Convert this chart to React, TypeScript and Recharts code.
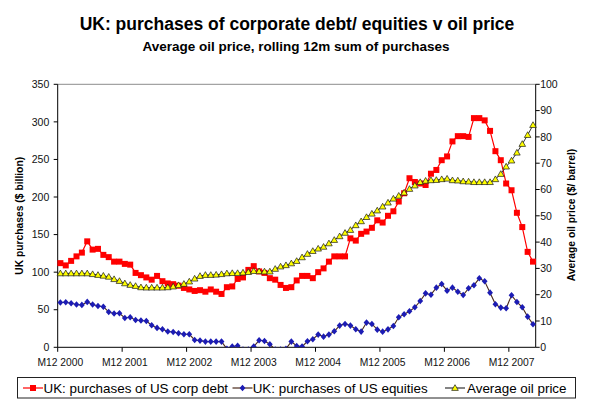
import React from 'react';
import { ComposedChart, Line, XAxis, YAxis, ReferenceLine } from 'recharts';

const months: string[] = [
  'M12 2000',
  'M1 2001', 'M2 2001', 'M3 2001', 'M4 2001', 'M5 2001', 'M6 2001', 'M7 2001', 'M8 2001', 'M9 2001', 'M10 2001', 'M11 2001', 'M12 2001',
  'M1 2002', 'M2 2002', 'M3 2002', 'M4 2002', 'M5 2002', 'M6 2002', 'M7 2002', 'M8 2002', 'M9 2002', 'M10 2002', 'M11 2002', 'M12 2002',
  'M1 2003', 'M2 2003', 'M3 2003', 'M4 2003', 'M5 2003', 'M6 2003', 'M7 2003', 'M8 2003', 'M9 2003', 'M10 2003', 'M11 2003', 'M12 2003',
  'M1 2004', 'M2 2004', 'M3 2004', 'M4 2004', 'M5 2004', 'M6 2004', 'M7 2004', 'M8 2004', 'M9 2004', 'M10 2004', 'M11 2004', 'M12 2004',
  'M1 2005', 'M2 2005', 'M3 2005', 'M4 2005', 'M5 2005', 'M6 2005', 'M7 2005', 'M8 2005', 'M9 2005', 'M10 2005', 'M11 2005', 'M12 2005',
  'M1 2006', 'M2 2006', 'M3 2006', 'M4 2006', 'M5 2006', 'M6 2006', 'M7 2006', 'M8 2006', 'M9 2006', 'M10 2006', 'M11 2006', 'M12 2006',
  'M1 2007', 'M2 2007', 'M3 2007', 'M4 2007', 'M5 2007', 'M6 2007', 'M7 2007', 'M8 2007', 'M9 2007', 'M10 2007', 'M11 2007', 'M12 2007',
  'M1 2008', 'M2 2008', 'M3 2008', 'M4 2008',
];

// UK: purchases of US corp debt ($ billion, rolling 12m sum)
const corpDebt: number[] = [
  112, 109, 115, 121, 126, 141, 130, 131, 123, 120, 114, 114, 111,
  110, 99, 96, 93, 90, 95, 88, 85, 84, 82, 79, 77,
  75, 76, 74, 77, 74, 71, 80, 81, 91, 93, 103, 108,
  101, 99, 92, 90, 83, 79, 80, 89, 95, 95, 92, 100,
  105, 114, 121, 121, 121, 145, 142, 151, 154, 159, 169, 166,
  175, 181, 194, 205, 225, 220, 218, 216, 231, 236, 249, 254,
  274, 281, 281, 280, 305, 305, 302, 288, 261, 249, 218, 209,
  179, 160, 127, 114,
];

// UK: purchases of US equities ($ billion, rolling 12m sum)
const equities: number[] = [
  59.6, 60, 58.7, 57, 56.4, 60.4, 57, 55, 54, 47, 45, 45.3, 39,
  40, 36.4, 35.6, 35, 29.3, 25.8, 24, 21, 20.4, 18.7, 17.3, 17.3,
  9.8, 8.9, 7.6, 7.6, 7.6, 7.6, -2, 1, 2, -3, -3, 1,
  9.3, 8.4, 4, -3, -3, -2, 7.6, 1.8, 0.9, 8, 10.7, 16.9,
  14.2, 16.9, 21.3, 28.9, 31.1, 28.9, 24, 20.9, 32.9, 31.1, 23.5, 20.8,
  23.9, 28.3, 39.9, 43.9, 47.9, 53.2, 61.6, 71.8, 70, 79.4, 84.2, 75.4,
  79.4, 74, 69.6, 78.5, 82.5, 91.8, 87.8, 72.7, 57.2, 52.8, 51.9, 69.2,
  60.3, 53.2, 40.8, 30.6,
];

// Average oil price ($/barrel)
const oilPrice: number[] = [
  28.1, 28.1, 28.1, 28.1, 28.1, 28.1, 27.8, 27.5, 27.2, 26.8, 25.9, 25.2, 24.3,
  23.7, 23.3, 22.8, 22.7, 22.7, 22.7, 22.7, 22.8, 23.1, 23.6, 24.1, 25.0,
  26.1, 27.1, 27.5, 27.5, 27.6, 27.8, 28.1, 28.2, 28.2, 28.4, 28.6, 29.0,
  28.9, 28.8, 28.8, 29.8, 30.7, 31.2, 31.9, 32.8, 34.2, 35.5, 36.6, 37.5,
  38.2, 39.5, 40.8, 42.2, 43.5, 44.6, 46.4, 47.9, 49.5, 50.8, 52.0, 53.5,
  55.0, 56.5, 57.6, 58.8, 60.2, 61.5, 62.8, 63.3, 63.5, 63.6, 63.9, 64.1,
  63.5, 63.4, 63.1, 63.0, 62.8, 62.8, 62.8, 62.8, 63.9, 65.9, 68.7, 71.0,
  74.0, 77.3, 80.7, 84.5,
];

const leftTicks: number[] = [0, 50, 100, 150, 200, 250, 300, 350];
const rightTicks: number[] = [0, 10, 20, 30, 40, 50, 60, 70, 80, 90, 100];

const TITLE = 'UK: purchases of corporate debt/ equities v oil price';
const SUBTITLE = 'Average oil price, rolling 12m sum of purchases';
const LEFT_LABEL = 'UK purchases ($ billion)';
const RIGHT_LABEL = 'Average oil price ($/ barrel)';
const SERIES_NAMES = ['UK: purchases of US corp debt', 'UK: purchases of US equities', 'Average oil price'];

const data = months.map((m, i) => ({
  month: m,
  debt: corpDebt[i],
  equities: equities[i],
  oil: oilPrice[i],
}));

const W = 593;
const H = 405;
const LEFT_W = 57.7;
const RIGHT_W = 57.3;
const PLOT_W = W - LEFT_W - RIGHT_W;
const HALF_BAND = PLOT_W / months.length / 2;
const FONT = '"Liberation Sans", Arial, sans-serif';

const RED = '#ff0000';
const BLUE = '#1c1cb4';
const BLUE_LINE = '#4a2a1c';
const YELLOW = '#ffff00';

const Square = (props: any) => {
  const { cx, cy, index } = props;
  if (cx == null || cy == null) return <g key={`s${index}`} />;
  return <rect key={`s${index}`} x={cx - 3} y={cy - 3} width={6} height={6} fill={RED} />;
};

const Diamond = (props: any) => {
  const { cx, cy, index } = props;
  if (cx == null || cy == null) return <g key={`d${index}`} />;
  return (
    <polygon
      key={`d${index}`}
      points={`${cx},${cy - 3.3} ${cx + 2.9},${cy} ${cx},${cy + 3.3} ${cx - 2.9},${cy}`}
      fill={BLUE}
    />
  );
};

const Triangle = (props: any) => {
  const { cx, cy, index } = props;
  if (cx == null || cy == null) return <g key={`t${index}`} />;
  return (
    <polygon
      key={`t${index}`}
      points={`${cx},${cy - 3.3} ${cx + 3.3},${cy + 2.4} ${cx - 3.3},${cy + 2.4}`}
      fill={YELLOW}
      stroke="#1a1a1a"
      strokeWidth={0.7}
    />
  );
};

const XTick = (props: any) => {
  const { x, y, payload } = props;
  const bx = x - HALF_BAND;
  return (
    <g>
      <line x1={bx} y1={y} x2={bx} y2={y + 4.5} stroke="#000" strokeWidth={1} />
      <text x={x} y={y + 18.7} textAnchor="middle" fontSize={10.3} fill="#111" fontFamily={FONT}>
        {payload.value}
      </text>
    </g>
  );
};

const LegendIcon = ({ x, kind }: { x: number; kind: number }) => {
  const cy = 388;
  const cx = x + 10;
  let marker: React.ReactNode = null;
  let stroke = RED;
  if (kind === 0) {
    marker = <rect x={cx - 3} y={cy - 3} width={6} height={6} fill={RED} />;
    stroke = RED;
  } else if (kind === 1) {
    marker = <polygon points={`${cx},${cy - 3.3} ${cx + 2.9},${cy} ${cx},${cy + 3.3} ${cx - 2.9},${cy}`} fill={BLUE} />;
    stroke = BLUE_LINE;
  } else {
    marker = (
      <polygon
        points={`${cx},${cy - 3.3} ${cx + 3.3},${cy + 2.4} ${cx - 3.3},${cy + 2.4}`}
        fill={YELLOW}
        stroke="#1a1a1a"
        strokeWidth={0.7}
      />
    );
    stroke = '#333';
  }
  return (
    <g>
      <line x1={x} y1={cy} x2={x + 20} y2={cy} stroke={stroke} strokeWidth={1.2} />
      {marker}
    </g>
  );
};

export default function App() {
  return (
    <div
      style={{
        position: 'absolute',
        left: 0,
        top: 0,
        width: W,
        height: H,
        background: '#fff',
        fontFamily: FONT,
      }}
    >
      <ComposedChart
        width={W}
        height={H}
        data={data}
        margin={{ top: 84.3, right: 0, bottom: 27.7, left: 0 }}
      >
        <XAxis
          dataKey="month"
          interval={11}
          height={30}
          tickSize={0}
          tickMargin={0}
          tickLine={false}
          axisLine={{ stroke: '#000', strokeWidth: 1 }}
          padding={{ left: HALF_BAND, right: HALF_BAND }}
          tick={<XTick />}
        />
        <YAxis
          yAxisId="left"
          domain={[0, 350]}
          ticks={leftTicks}
          allowDataOverflow
          width={LEFT_W}
          tickSize={4}
          tickMargin={4.4}
          axisLine={{ stroke: '#000' }}
          tickLine={{ stroke: '#000' }}
          tick={{ fontSize: 10.5, fill: '#111', fontFamily: FONT }}
          interval={0}
        />
        <YAxis
          yAxisId="right"
          orientation="right"
          domain={[0, 100]}
          ticks={rightTicks}
          allowDataOverflow
          width={RIGHT_W}
          tickSize={4}
          tickMargin={0.5}
          axisLine={{ stroke: '#000' }}
          tickLine={{ stroke: '#000' }}
          tick={{ fontSize: 10.5, fill: '#111', fontFamily: FONT }}
          interval={0}
        />
        <ReferenceLine yAxisId="left" y={350} stroke="#8c8c8c" strokeWidth={1} />
        <Line
          yAxisId="left"
          type="linear"
          dataKey="debt"
          name={SERIES_NAMES[0]}
          stroke={RED}
          strokeWidth={1.2}
          dot={Square}
          activeDot={false}
          isAnimationActive={false}
        />
        <Line
          yAxisId="left"
          type="linear"
          dataKey="equities"
          name={SERIES_NAMES[1]}
          stroke={BLUE_LINE}
          strokeWidth={1.1}
          dot={Diamond}
          activeDot={false}
          isAnimationActive={false}
        />
        <Line
          yAxisId="right"
          type="linear"
          dataKey="oil"
          name={SERIES_NAMES[2]}
          stroke="#333"
          strokeWidth={1}
          dot={Triangle}
          activeDot={false}
          isAnimationActive={false}
        />
      </ComposedChart>
      <svg
        width={W}
        height={H}
        style={{ position: 'absolute', left: 0, top: 0, pointerEvents: 'none' }}
        fontFamily={FONT}
      >
        <text x={297} y={30} textAnchor="middle" fontSize={17.5} fontWeight="bold" fill="#000">
          {TITLE}
        </text>
        <text x={296} y={51} textAnchor="middle" fontSize={13.5} fontWeight="bold" fill="#000">
          {SUBTITLE}
        </text>
        <text
          x={23}
          y={215.8}
          transform="rotate(-90 23 215.8)"
          textAnchor="middle"
          fontSize={10.3}
          fontWeight="bold"
          fill="#000"
        >
          {LEFT_LABEL}
        </text>
        <text
          x={574.5}
          y={215}
          transform="rotate(-90 574.5 215)"
          textAnchor="middle"
          fontSize={10.3}
          fontWeight="bold"
          fill="#000"
        >
          {RIGHT_LABEL}
        </text>
        <rect x={17.5} y={377.5} width={558} height={20.5} fill="none" stroke="#222" strokeWidth={1} />
        <LegendIcon x={23} kind={0} />
        <text x={43.5} y={392.5} fontSize={13.4} fill="#000">{SERIES_NAMES[0]}</text>
        <LegendIcon x={232.5} kind={1} />
        <text x={252.7} y={392.5} fontSize={13.4} fill="#000">{SERIES_NAMES[1]}</text>
        <LegendIcon x={445} kind={2} />
        <text x={467} y={392.5} fontSize={13.4} fill="#000">{SERIES_NAMES[2]}</text>
      </svg>
    </div>
  );
}
